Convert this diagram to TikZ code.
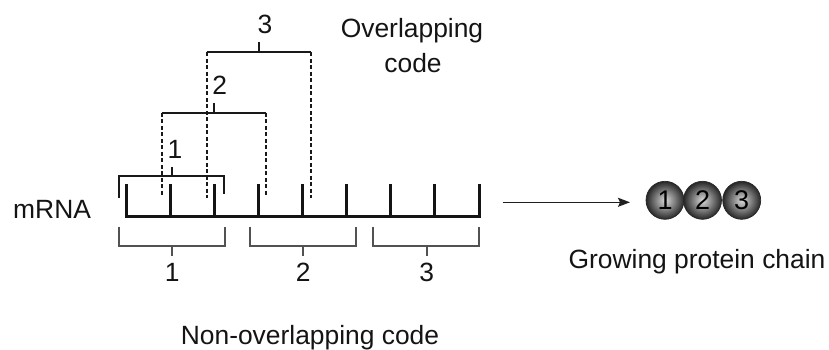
\documentclass[tikz,border=0pt]{standalone}
\usepackage{fontspec}
\setmainfont{Liberation Sans}
\usetikzlibrary{arrows.meta}
\begin{document}
\begin{tikzpicture}[x=1pt,y=-1pt,
  lbl/.style={font=\fontsize{26.4}{30}\selectfont, text=black!92, inner sep=0pt},
  strand/.style={line width=3pt, draw=black!92, line join=miter},
  obr/.style={line width=1.9pt, draw=black!90},
  odash/.style={line width=1.8pt, draw=black!90, dash pattern=on 4pt off 2.5pt},
  nbr/.style={line width=1.9pt, draw=black!68},
  bead/.style={circle, minimum size=38pt, inner sep=0pt, draw=black!85,
    line width=0.7pt, shading=radial, inner color=black!15, outer color=black!85,
    font=\fontsize{27}{30}\selectfont, text=black},
  flow/.style={line width=1.5pt, draw=black!88,
    -{Stealth[length=12pt, width=9pt, inset=2pt]}}
]
\useasboundingbox (0,0) rectangle (829,350);

% mRNA strand: backbone with nine bases
\node[lbl, anchor=west] (mrna) at (13,209.5) {mRNA};
\draw[strand] (126,184.3) -- (126,216.7) -- (479,216.7) -- (479,184.3);
\foreach \k in {1,...,7}
  \draw[strand] ({126+44.125*\k},184.3) -- ({126+44.125*\k},216.7);

% overlapping reading frames
\draw[obr] (119,198) -- (119,175.7) -- (224,175.7) -- (224,194);
\draw[obr] (171.7,175.7) -- (171.7,166.7);
\node[lbl, anchor=base] (o1) at (175,158.3) {1};

\draw[obr] (161.7,112.7) -- (266,112.7);
\draw[odash] (161.7,112.7) -- (161.7,196.7);
\draw[odash] (266,112.7) -- (266,196.7);
\draw[obr] (214,112.7) -- (214,103);
\node[lbl, anchor=base] (o2) at (219.7,95) {2};

\draw[obr] (206.7,52.3) -- (311,52.3);
\draw[odash] (206.7,52.3) -- (206.7,198);
\draw[odash] (311,52.3) -- (311,198);
\draw[obr] (259,52.3) -- (259,42);
\node[lbl, anchor=base] (o3) at (265,33.3) {3};

\node[lbl, anchor=base] (ovl) at (412,37.3) {Overlapping};
\node[lbl, anchor=base] (ovlb) at (413,72.7) {code};

% non-overlapping reading frames
\draw[nbr] (119,226.7) -- (119,246) -- (225,246) -- (225,226.7);
\draw[nbr] (172,246) -- (172,256);
\node[lbl, anchor=base] (n1) at (172.3,281.7) {1};

\draw[nbr] (250,226.7) -- (250,246) -- (355.7,246) -- (355.7,226.7);
\draw[nbr] (302.7,246) -- (302.7,256);
\node[lbl, anchor=base] (n2) at (303.3,281.7) {2};

\draw[nbr] (373,226.7) -- (373,246) -- (479,246) -- (479,226.7);
\draw[nbr] (426.7,246) -- (426.7,256);
\node[lbl, anchor=base] (n3) at (426.7,281.7) {3};

\node[lbl, anchor=base] (nonovl) at (310,344) {Non-overlapping code};

% translation into a growing chain
\coordinate (tstart) at (502.7,202.3);
\coordinate (tend) at (630,202.3);
\draw[flow] (tstart) -- (tend);

\node[bead] (b1) at (665,200.3) {1};
\node[bead] (b2) at (702.5,200.3) {2};
\node[bead] (b3) at (741.7,200.3) {3};

\node[lbl, anchor=base] (chain) at (697,268) {Growing protein chain};
\end{tikzpicture}
\end{document}
